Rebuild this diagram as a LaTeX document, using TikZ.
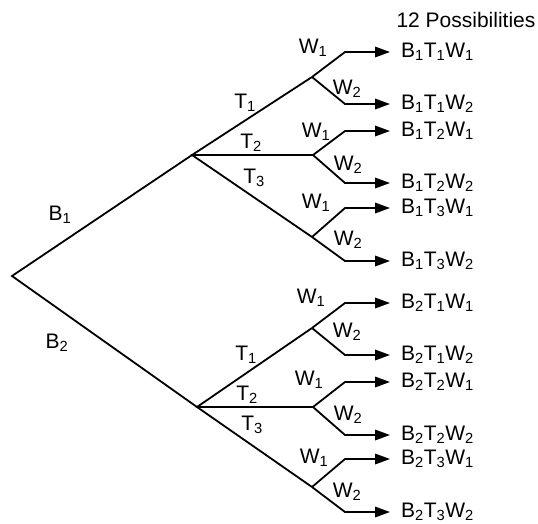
\documentclass[tikz,border=0pt]{standalone}
\usepackage{fontspec}
\setmainfont{Liberation Sans}
\usetikzlibrary{arrows.meta}
\newcommand{\lsub}[1]{\textsubscript{#1}}

\begin{document}
\begin{tikzpicture}[x=1pt,y=-1pt,font=\fontsize{21}{25}\selectfont,
    >={Triangle[length=15pt,width=10.5pt]},
    branch/.style={line width=1.8pt},
    outcome/.style={->,line width=1.8pt,shorten >=11pt},
    lbl/.style={inner sep=0pt},
    leaf/.style={anchor=west,inner sep=0pt,text height=15pt,text depth=4.4pt}]
  \useasboundingbox (0,0) rectangle (538,523);

  \node[lbl] (title) at (466,20) {12 Possibilities};

  % first two levels
  \coordinate (root) at (12,276);
  \coordinate (b1) at (192,155);
  \coordinate (b2) at (197,407);
  \draw[branch] (b1) -- (root) -- (b2);
  \node[lbl] (lb1) at (60,215) {B\lsub{1}};
  \node[lbl] (lb2) at (57,343) {B\lsub{2}};

  \coordinate (t11) at (312,77);
  \coordinate (t12) at (313,155);
  \coordinate (t13) at (312,237);
  \coordinate (t21) at (312,328);
  \coordinate (t22) at (313,407);
  \coordinate (t23) at (312,487);
  \foreach \b in {1,2}{
    \draw[branch] (t\b1) -- (b\b) -- (t\b3);
    \draw[branch] (b\b) -- (t\b2);
  }
  \foreach \b/\t/\x/\y in {1/1/245/103,1/2/251/143,1/3/254/178,
                           2/1/246/355,2/2/247/395,2/3/252/425}
    \node[lbl] (lt\b\t) at (\x,\y) {T\lsub{\t}};

  % last level with the outcomes
  \foreach \b/\t/\w/\y in {1/1/1/52,1/1/2/104,1/2/1/131,1/2/2/183,
                           1/3/1/208,1/3/2/261,2/1/1/303,2/1/2/355,
                           2/2/1/382,2/2/2/435,2/3/1/459,2/3/2/512}{
    \coordinate (c\b\t\w) at (345,\y);
    \node[leaf] (o\b\t\w) at (401,\y)
      {B\lsub{\b}T\lsub{\t}W\lsub{\w}};
    \draw[outcome] (t\b\t) -- (c\b\t\w) -- (o\b\t\w.west);
  }
  \foreach \b/\t/\xa/\ya/\xb/\yb in {1/1/313/48/347/89,1/2/316/132/348/165,
                                     1/3/316/203/348/240,2/1/311/298/347/332,
                                     2/2/309/380/348/415,2/3/314/458/347/492}{
    \node[lbl] (lw\b\t1) at (\xa,\ya) {W\lsub{1}};
    \node[lbl] (lw\b\t2) at (\xb,\yb) {W\lsub{2}};
  }
\end{tikzpicture}
\end{document}
